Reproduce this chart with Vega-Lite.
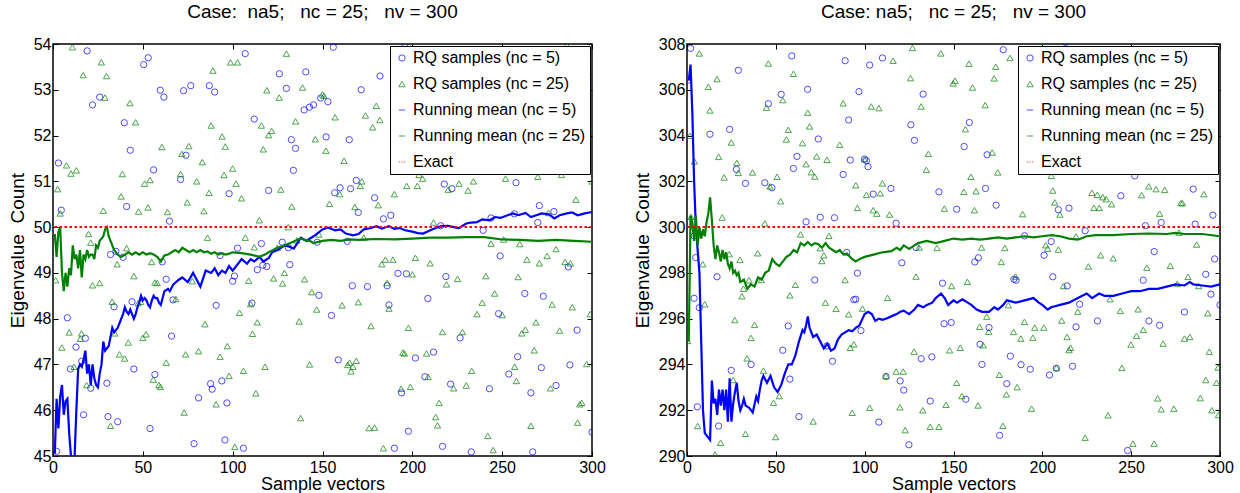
{
"$schema":"https://vega.github.io/schema/vega-lite/v6.json",
"padding":{"left":7,"top":2,"right":5,"bottom":2},
"bounds":"flush",
"spacing":95,
"background":"white",
"config":{
"font":"Liberation Sans",
"view":{"stroke":"#000","strokeWidth":1.5},
"axis":{"grid":false,"domain":false,"ticks":true,"tickColor":"#000","tickWidth":1,"tickSize":-5,"labelFontSize":16,"labelColor":"#000","labelFont":"Liberation Sans","titleFont":"Liberation Sans","titleFontSize":19,"titleFontWeight":"normal","titleColor":"#000","labelFlush":false,"labelOverlap":false},
"axisX":{"titleFontSize":18},
"title":{"fontSize":19,"fontWeight":"normal","font":"Liberation Sans","color":"#000","anchor":"middle","offset":14},
"legend":{"orient":"top-right","offset":2,"padding":4,"rowPadding":10,"labelFontSize":16,"labelFont":"Liberation Sans","labelColor":"#000","strokeColor":"#000","fillColor":"#fff","labelOffset":3,"labelLimit":400}
},
"resolve":{"scale":{"color":"independent","shape":"independent","size":"independent","strokeWidth":"independent"},"legend":{"color":"independent","shape":"independent","size":"independent","strokeWidth":"independent"}},
"datasets":{
"L":[
{"s":"a","x":2,"y":45.1},{"s":"a","x":3,"y":51.4},{"s":"a","x":4.6,"y":50.37},{"s":"a","x":8,"y":48.02},{"s":"a","x":9.7,"y":46.9},{"s":"a","x":12.8,"y":47.38},{"s":"a","x":16,"y":47.07},{"s":"a","x":17,"y":45.9},{"s":"a","x":18,"y":47.57},{"s":"a","x":19,"y":53.85},{"s":"a","x":21,"y":46.48},{"s":"a","x":22,"y":52.67},{"s":"a","x":26,"y":52.84},{"s":"a","x":30,"y":46.59},{"s":"a","x":30.6,"y":45.86},{"s":"a","x":32,"y":49.4},{"s":"a","x":34,"y":48.26},{"s":"a","x":35,"y":49.47},{"s":"a","x":36,"y":45.75},{"s":"a","x":39,"y":49.34},{"s":"a","x":39.7,"y":52.28},{"s":"a","x":41,"y":50.45},{"s":"a","x":43,"y":51.68},{"s":"a","x":44,"y":48.37},{"s":"a","x":45,"y":46.9},{"s":"a","x":50.5,"y":53.55},{"s":"a","x":53,"y":53.7},{"s":"a","x":54,"y":45.6},{"s":"a","x":56,"y":51.25},{"s":"a","x":56.7,"y":46.78},{"s":"a","x":59.7,"y":52.99},{"s":"a","x":60.8,"y":49.24},{"s":"a","x":61.7,"y":52.84},{"s":"a","x":63,"y":48.86},{"s":"a","x":64.8,"y":50.13},{"s":"a","x":66,"y":47.62},{"s":"a","x":66.8,"y":48.41},{"s":"a","x":71,"y":51.04},{"s":"a","x":72.7,"y":52.98},{"s":"a","x":74,"y":51.57},{"s":"a","x":76.7,"y":53.09},{"s":"a","x":78.5,"y":45.27},{"s":"a","x":81,"y":46.27},{"s":"a","x":87,"y":53.09},{"s":"a","x":87.7,"y":46.58},{"s":"a","x":88.6,"y":46.46},{"s":"a","x":90,"y":52.95},{"s":"a","x":90.8,"y":48.29},{"s":"a","x":93,"y":49.38},{"s":"a","x":94,"y":46.64},{"s":"a","x":95.7,"y":45.35},{"s":"a","x":96.8,"y":46.16},{"s":"a","x":98,"y":50.73},{"s":"a","x":100,"y":48.82},{"s":"a","x":101,"y":48.93},{"s":"a","x":102.7,"y":49.54},{"s":"a","x":106,"y":45.17},{"s":"a","x":107,"y":53.79},{"s":"a","x":110.7,"y":48.34},{"s":"a","x":112,"y":52.36},{"s":"a","x":113.7,"y":49.07},{"s":"a","x":116,"y":49.64},{"s":"a","x":116.8,"y":49.17},{"s":"a","x":119,"y":49.14},{"s":"a","x":120,"y":50.8},{"s":"a","x":126,"y":53.35},{"s":"a","x":127.6,"y":49.67},{"s":"a","x":129.9,"y":53.03},{"s":"a","x":131,"y":49.55},{"s":"a","x":131.8,"y":49.18},{"s":"a","x":132.7,"y":51.91},{"s":"a","x":133.8,"y":51.24},{"s":"a","x":135,"y":51.72},{"s":"a","x":140.7,"y":53.39},{"s":"a","x":139.8,"y":52.56},{"s":"a","x":142.7,"y":52.62},{"s":"a","x":145,"y":52.67},{"s":"a","x":147,"y":49.67},{"s":"a","x":148,"y":48.51},{"s":"a","x":149,"y":52.82},{"s":"a","x":152,"y":51.97},{"s":"a","x":153,"y":52.74},{"s":"a","x":155,"y":48.07},{"s":"a","x":156,"y":53.93},{"s":"a","x":156.8,"y":50.75},{"s":"a","x":158.8,"y":47.1},{"s":"a","x":159.8,"y":50.86},{"s":"a","x":163.8,"y":49.69},{"s":"a","x":164.9,"y":51.91},{"s":"a","x":165.6,"y":50.84},{"s":"a","x":166.6,"y":48.72},{"s":"a","x":168.8,"y":51.02},{"s":"a","x":169.9,"y":50.32},{"s":"a","x":171.5,"y":53.0},{"s":"a","x":175,"y":48.7},{"s":"a","x":179,"y":50.64},{"s":"a","x":182,"y":53.3},{"s":"a","x":183.9,"y":50.18},{"s":"a","x":186,"y":48.72},{"s":"a","x":187,"y":48.3},{"s":"a","x":188,"y":50.26},{"s":"a","x":190,"y":45.17},{"s":"a","x":192,"y":48.99},{"s":"a","x":194,"y":46.38},{"s":"a","x":195.8,"y":54.0},{"s":"a","x":196.7,"y":48.98},{"s":"a","x":197.8,"y":45.54},{"s":"a","x":201.7,"y":47.14},{"s":"a","x":207,"y":46.73},{"s":"a","x":208.6,"y":48.44},{"s":"a","x":211.8,"y":47.27},{"s":"a","x":215.8,"y":50.03},{"s":"a","x":216.8,"y":45.21},{"s":"a","x":217.8,"y":50.94},{"s":"a","x":218.7,"y":48.92},{"s":"a","x":221.3,"y":46.57},{"s":"a","x":222,"y":50.84},{"s":"a","x":226.6,"y":47.58},{"s":"a","x":232.8,"y":45.09},{"s":"a","x":239.4,"y":49.93},{"s":"a","x":242.9,"y":46.47},{"s":"a","x":243.8,"y":50.2},{"s":"a","x":248,"y":48.11},{"s":"a","x":248.9,"y":49.37},{"s":"a","x":253.7,"y":46.79},{"s":"a","x":256.8,"y":50.29},{"s":"a","x":257.7,"y":50.97},{"s":"a","x":258.6,"y":47.17},{"s":"a","x":262.6,"y":48.55},{"s":"a","x":266,"y":46.38},{"s":"a","x":267,"y":45.09},{"s":"a","x":269.8,"y":50.1},{"s":"a","x":270.7,"y":50.47},{"s":"a","x":271.8,"y":46.93},{"s":"a","x":272.9,"y":48.49},{"s":"a","x":280,"y":46.54},{"s":"a","x":278.8,"y":50.34},{"s":"a","x":286.8,"y":49.13},{"s":"a","x":287.7,"y":46.99},{"s":"a","x":291.7,"y":47.75},{"s":"a","x":299,"y":53.27},{"s":"a","x":300,"y":45.52},
{"s":"b","x":1.5,"y":48.84},{"s":"b","x":2.6,"y":50.83},{"s":"b","x":4,"y":50.3},{"s":"b","x":4.9,"y":47.37},{"s":"b","x":7.5,"y":51.35},{"s":"b","x":9,"y":47.7},{"s":"b","x":10,"y":51.17},{"s":"b","x":10.8,"y":53.93},{"s":"b","x":11.7,"y":46.95},{"s":"b","x":13,"y":51.24},{"s":"b","x":15.2,"y":47.56},{"s":"b","x":15.9,"y":47.68},{"s":"b","x":16.8,"y":53.32},{"s":"b","x":18.7,"y":46.55},{"s":"b","x":19.8,"y":49.85},{"s":"b","x":21,"y":49.66},{"s":"b","x":22,"y":48.73},{"s":"b","x":26,"y":48.78},{"s":"b","x":26.9,"y":53.6},{"s":"b","x":28,"y":50.36},{"s":"b","x":28.9,"y":52.83},{"s":"b","x":29.8,"y":53.3},{"s":"b","x":32,"y":45.66},{"s":"b","x":32.9,"y":48.37},{"s":"b","x":34.4,"y":47.68},{"s":"b","x":35.7,"y":49.19},{"s":"b","x":37,"y":47.22},{"s":"b","x":38.6,"y":51.16},{"s":"b","x":37.9,"y":50.67},{"s":"b","x":39.9,"y":47.13},{"s":"b","x":41,"y":49.54},{"s":"b","x":41.9,"y":47.48},{"s":"b","x":42.8,"y":52.71},{"s":"b","x":45,"y":48.93},{"s":"b","x":46,"y":52.29},{"s":"b","x":47.6,"y":50.34},{"s":"b","x":47.4,"y":48.34},{"s":"b","x":48.8,"y":48.37},{"s":"b","x":50,"y":47.58},{"s":"b","x":51,"y":50.95},{"s":"b","x":51.8,"y":47.66},{"s":"b","x":52.9,"y":50.43},{"s":"b","x":54,"y":51.03},{"s":"b","x":54.9,"y":49.24},{"s":"b","x":55.8,"y":46.67},{"s":"b","x":56.7,"y":48.79},{"s":"b","x":58,"y":48.78},{"s":"b","x":58.9,"y":46.55},{"s":"b","x":59.8,"y":46.51},{"s":"b","x":60.6,"y":51.75},{"s":"b","x":63,"y":47.04},{"s":"b","x":63.7,"y":50.33},{"s":"b","x":68.4,"y":48.43},{"s":"b","x":71,"y":51.16},{"s":"b","x":71.7,"y":51.6},{"s":"b","x":73,"y":45.95},{"s":"b","x":73.8,"y":47.22},{"s":"b","x":74.7,"y":50.54},{"s":"b","x":75.6,"y":51.77},{"s":"b","x":77.6,"y":48.82},{"s":"b","x":80,"y":51.0},{"s":"b","x":81,"y":47.29},{"s":"b","x":83.1,"y":51.42},{"s":"b","x":84,"y":50.35},{"s":"b","x":84.6,"y":47.88},{"s":"b","x":86,"y":49.77},{"s":"b","x":86.9,"y":50.75},{"s":"b","x":88,"y":52.22},{"s":"b","x":89,"y":53.42},{"s":"b","x":90.8,"y":46.13},{"s":"b","x":93,"y":47.17},{"s":"b","x":94.1,"y":51.98},{"s":"b","x":95.2,"y":51.14},{"s":"b","x":95.9,"y":51.76},{"s":"b","x":97,"y":47.4},{"s":"b","x":98,"y":46.75},{"s":"b","x":98.8,"y":53.6},{"s":"b","x":100,"y":51.28},{"s":"b","x":101.2,"y":45.2},{"s":"b","x":101.9,"y":50.95},{"s":"b","x":102.7,"y":53.6},{"s":"b","x":103.8,"y":48.13},{"s":"b","x":104.9,"y":50.63},{"s":"b","x":106,"y":46.86},{"s":"b","x":107,"y":49.77},{"s":"b","x":108.9,"y":48.83},{"s":"b","x":110,"y":48.32},{"s":"b","x":111,"y":47.67},{"s":"b","x":112,"y":49.56},{"s":"b","x":112.9,"y":46.37},{"s":"b","x":113.7,"y":47.92},{"s":"b","x":114.8,"y":50.15},{"s":"b","x":116,"y":52.22},{"s":"b","x":117,"y":51.7},{"s":"b","x":118,"y":46.95},{"s":"b","x":119,"y":52.99},{"s":"b","x":120,"y":52.01},{"s":"b","x":121.7,"y":52.1},{"s":"b","x":122.8,"y":48.88},{"s":"b","x":124.8,"y":49.55},{"s":"b","x":125.9,"y":52.83},{"s":"b","x":126.8,"y":50.82},{"s":"b","x":127.8,"y":48.77},{"s":"b","x":128.8,"y":49.0},{"s":"b","x":129.9,"y":53.79},{"s":"b","x":131,"y":50.0},{"s":"b","x":132.9,"y":50.45},{"s":"b","x":135,"y":52.31},{"s":"b","x":135.8,"y":49.71},{"s":"b","x":137,"y":47.94},{"s":"b","x":137.8,"y":45.83},{"s":"b","x":138.9,"y":53.05},{"s":"b","x":140,"y":48.86},{"s":"b","x":142.8,"y":47.0},{"s":"b","x":144,"y":48.58},{"s":"b","x":146,"y":51.92},{"s":"b","x":146.8,"y":48.2},{"s":"b","x":148,"y":49.84},{"s":"b","x":150,"y":52.9},{"s":"b","x":150.8,"y":52.87},{"s":"b","x":151.9,"y":51.67},{"s":"b","x":153.9,"y":50.51},{"s":"b","x":157,"y":52.4},{"s":"b","x":159.6,"y":50.72},{"s":"b","x":160.9,"y":48.29},{"s":"b","x":162,"y":51.45},{"s":"b","x":164,"y":46.99},{"s":"b","x":165.1,"y":47.04},{"s":"b","x":165.9,"y":46.85},{"s":"b","x":166.9,"y":46.95},{"s":"b","x":168,"y":50.44},{"s":"b","x":168.8,"y":47.08},{"s":"b","x":169.9,"y":48.36},{"s":"b","x":171,"y":50.9},{"s":"b","x":171.9,"y":51.0},{"s":"b","x":173,"y":49.77},{"s":"b","x":173.9,"y":52.44},{"s":"b","x":175.9,"y":45.61},{"s":"b","x":177,"y":47.84},{"s":"b","x":177.9,"y":52.18},{"s":"b","x":179,"y":45.62},{"s":"b","x":179.9,"y":52.65},{"s":"b","x":181,"y":50.48},{"s":"b","x":181.9,"y":52.34},{"s":"b","x":183,"y":49.19},{"s":"b","x":183.9,"y":45.17},{"s":"b","x":185,"y":49.29},{"s":"b","x":185.9,"y":48.78},{"s":"b","x":187,"y":48.22},{"s":"b","x":189.2,"y":49.29},{"s":"b","x":190,"y":50.72},{"s":"b","x":193.8,"y":46.47},{"s":"b","x":194.7,"y":47.26},{"s":"b","x":195.6,"y":47.24},{"s":"b","x":196.9,"y":50.9},{"s":"b","x":197.8,"y":47.8},{"s":"b","x":198.9,"y":46.51},{"s":"b","x":200,"y":48.97},{"s":"b","x":201.7,"y":49.33},{"s":"b","x":202.8,"y":50.9},{"s":"b","x":203.7,"y":51.14},{"s":"b","x":205.7,"y":51.06},{"s":"b","x":207.9,"y":47.24},{"s":"b","x":208.8,"y":46.73},{"s":"b","x":209.9,"y":49.21},{"s":"b","x":211.8,"y":50.1},{"s":"b","x":213,"y":45.85},{"s":"b","x":214,"y":45.67},{"s":"b","x":214.9,"y":46.16},{"s":"b","x":216.8,"y":47.71},{"s":"b","x":219,"y":48.75},{"s":"b","x":220,"y":50.82},{"s":"b","x":223,"y":46.48},{"s":"b","x":225.2,"y":48.87},{"s":"b","x":226,"y":50.95},{"s":"b","x":227.9,"y":47.71},{"s":"b","x":230,"y":46.54},{"s":"b","x":231,"y":50.8},{"s":"b","x":233,"y":46.86},{"s":"b","x":234,"y":51.0},{"s":"b","x":236,"y":48.1},{"s":"b","x":238.9,"y":48.35},{"s":"b","x":240.9,"y":48.93},{"s":"b","x":242,"y":45.44},{"s":"b","x":243.8,"y":49.64},{"s":"b","x":245,"y":45.13},{"s":"b","x":245.8,"y":48.55},{"s":"b","x":250,"y":48.08},{"s":"b","x":250.8,"y":49.73},{"s":"b","x":251.9,"y":51.06},{"s":"b","x":257.9,"y":46.64},{"s":"b","x":257,"y":46.95},{"s":"b","x":258.9,"y":48.91},{"s":"b","x":259.8,"y":49.63},{"s":"b","x":260.9,"y":47.68},{"s":"b","x":262.9,"y":47.76},{"s":"b","x":263.8,"y":49.29},{"s":"b","x":266,"y":45.66},{"s":"b","x":267.8,"y":47.31},{"s":"b","x":268.8,"y":47.92},{"s":"b","x":269.8,"y":51.1},{"s":"b","x":270.7,"y":49.21},{"s":"b","x":275,"y":49.37},{"s":"b","x":275.8,"y":50.31},{"s":"b","x":276.9,"y":46.48},{"s":"b","x":277.8,"y":48.31},{"s":"b","x":280,"y":49.52},{"s":"b","x":282,"y":47.74},{"s":"b","x":283,"y":51.14},{"s":"b","x":285,"y":49.24},{"s":"b","x":286,"y":53.97},{"s":"b","x":288,"y":49.21},{"s":"b","x":289,"y":48.25},{"s":"b","x":291,"y":50.6},{"s":"b","x":292,"y":45.73},{"s":"b","x":293.2,"y":46.13},{"s":"b","x":294.3,"y":46.16},{"s":"b","x":297,"y":47.01},{"s":"b","x":299,"y":48.1},{"s":"b","x":299.6,"y":53.55},{"s":"b","x":300,"y":51.0},
{"s":"c","x":1,"y":45.05},{"s":"c","x":2,"y":46.25},{"s":"c","x":3,"y":45.6},{"s":"c","x":4,"y":46.3},{"s":"c","x":5,"y":46.55},{"s":"c","x":6,"y":45.9},{"s":"c","x":7,"y":46.2},{"s":"c","x":8,"y":46.25},{"s":"c","x":9,"y":45.5},{"s":"c","x":10,"y":45.0},{"s":"c","x":11,"y":44.9},{"s":"c","x":12,"y":44.95},{"s":"c","x":13,"y":46.0},{"s":"c","x":14,"y":46.9},{"s":"c","x":15,"y":47.0},{"s":"c","x":16,"y":46.95},{"s":"c","x":17,"y":47.1},{"s":"c","x":18,"y":47.3},{"s":"c","x":19,"y":46.8},{"s":"c","x":20,"y":47.0},{"s":"c","x":21,"y":46.55},{"s":"c","x":22,"y":47.0},{"s":"c","x":23,"y":46.7},{"s":"c","x":24,"y":46.55},{"s":"c","x":25,"y":46.5},{"s":"c","x":26,"y":46.8},{"s":"c","x":27,"y":47.0},{"s":"c","x":28,"y":47.5},{"s":"c","x":29,"y":47.3},{"s":"c","x":30,"y":47.35},{"s":"c","x":31,"y":47.4},{"s":"c","x":32,"y":47.6},{"s":"c","x":33,"y":47.8},{"s":"c","x":34,"y":47.7},{"s":"c","x":35,"y":47.75},{"s":"c","x":36,"y":47.8},{"s":"c","x":37,"y":47.9},{"s":"c","x":38,"y":48.0},{"s":"c","x":39,"y":48.1},{"s":"c","x":40,"y":48.25},{"s":"c","x":41,"y":48.15},{"s":"c","x":42,"y":48.1},{"s":"c","x":43,"y":48.2},{"s":"c","x":44,"y":48.1},{"s":"c","x":45,"y":48.0},{"s":"c","x":46,"y":48.1},{"s":"c","x":47,"y":48.25},{"s":"c","x":48,"y":48.35},{"s":"c","x":49,"y":48.5},{"s":"c","x":50,"y":48.4},{"s":"c","x":51,"y":48.45},{"s":"c","x":52,"y":48.4},{"s":"c","x":53,"y":48.3},{"s":"c","x":54,"y":48.25},{"s":"c","x":55,"y":48.4},{"s":"c","x":56,"y":48.5},{"s":"c","x":57,"y":48.45},{"s":"c","x":58,"y":48.45},{"s":"c","x":59,"y":48.35},{"s":"c","x":60,"y":48.3},{"s":"c","x":62,"y":48.6},{"s":"c","x":64,"y":48.65},{"s":"c","x":65,"y":48.6},{"s":"c","x":67,"y":48.75},{"s":"c","x":70,"y":48.85},{"s":"c","x":72,"y":48.9},{"s":"c","x":75,"y":48.8},{"s":"c","x":78,"y":49.0},{"s":"c","x":80,"y":48.85},{"s":"c","x":82,"y":48.7},{"s":"c","x":85,"y":49.05},{"s":"c","x":88,"y":49.0},{"s":"c","x":90,"y":49.1},{"s":"c","x":92,"y":48.95},{"s":"c","x":94,"y":49.05},{"s":"c","x":96,"y":49.0},{"s":"c","x":98,"y":49.15},{"s":"c","x":100,"y":49.05},{"s":"c","x":102,"y":49.15},{"s":"c","x":105,"y":49.3},{"s":"c","x":108,"y":49.2},{"s":"c","x":110,"y":49.3},{"s":"c","x":112,"y":49.25},{"s":"c","x":115,"y":49.35},{"s":"c","x":117,"y":49.25},{"s":"c","x":120,"y":49.32},{"s":"c","x":122,"y":49.45},{"s":"c","x":125,"y":49.5},{"s":"c","x":129,"y":49.6},{"s":"c","x":131,"y":49.58},{"s":"c","x":134,"y":49.53},{"s":"c","x":138,"y":49.77},{"s":"c","x":141,"y":49.7},{"s":"c","x":145,"y":49.8},{"s":"c","x":147,"y":49.86},{"s":"c","x":150,"y":49.95},{"s":"c","x":153,"y":49.99},{"s":"c","x":157,"y":49.93},{"s":"c","x":160,"y":49.95},{"s":"c","x":163,"y":49.86},{"s":"c","x":167,"y":49.82},{"s":"c","x":170,"y":49.85},{"s":"c","x":173,"y":49.95},{"s":"c","x":177,"y":49.98},{"s":"c","x":180,"y":50.02},{"s":"c","x":183,"y":49.97},{"s":"c","x":187,"y":50.02},{"s":"c","x":190,"y":49.96},{"s":"c","x":193,"y":49.98},{"s":"c","x":196,"y":49.93},{"s":"c","x":200,"y":49.9},{"s":"c","x":203,"y":49.87},{"s":"c","x":206,"y":49.86},{"s":"c","x":210,"y":49.93},{"s":"c","x":213,"y":49.98},{"s":"c","x":216,"y":50.02},{"s":"c","x":220,"y":50.03},{"s":"c","x":223,"y":50.0},{"s":"c","x":226,"y":49.98},{"s":"c","x":230,"y":50.08},{"s":"c","x":233,"y":50.1},{"s":"c","x":236,"y":50.11},{"s":"c","x":239,"y":50.17},{"s":"c","x":243,"y":50.15},{"s":"c","x":246,"y":50.22},{"s":"c","x":249,"y":50.2},{"s":"c","x":253,"y":50.26},{"s":"c","x":256,"y":50.3},{"s":"c","x":259,"y":50.26},{"s":"c","x":263,"y":50.31},{"s":"c","x":266,"y":50.22},{"s":"c","x":269,"y":50.26},{"s":"c","x":272,"y":50.3},{"s":"c","x":276,"y":50.28},{"s":"c","x":279,"y":50.19},{"s":"c","x":282,"y":50.26},{"s":"c","x":286,"y":50.3},{"s":"c","x":289,"y":50.32},{"s":"c","x":292,"y":50.26},{"s":"c","x":296,"y":50.3},{"s":"c","x":300,"y":50.33},
{"s":"d","x":1,"y":49.85},{"s":"d","x":2,"y":49.35},{"s":"d","x":3,"y":49.9},{"s":"d","x":4,"y":50.0},{"s":"d","x":5,"y":49.0},{"s":"d","x":6,"y":48.6},{"s":"d","x":7,"y":49.0},{"s":"d","x":8,"y":48.7},{"s":"d","x":9,"y":49.1},{"s":"d","x":10,"y":48.95},{"s":"d","x":11,"y":49.6},{"s":"d","x":12,"y":49.3},{"s":"d","x":13,"y":49.4},{"s":"d","x":14,"y":49.1},{"s":"d","x":15,"y":49.5},{"s":"d","x":16,"y":48.9},{"s":"d","x":17,"y":49.4},{"s":"d","x":18,"y":49.3},{"s":"d","x":19,"y":49.5},{"s":"d","x":20,"y":49.35},{"s":"d","x":21,"y":49.4},{"s":"d","x":22,"y":49.4},{"s":"d","x":23,"y":49.3},{"s":"d","x":24,"y":49.6},{"s":"d","x":25,"y":49.55},{"s":"d","x":26,"y":49.7},{"s":"d","x":27,"y":49.75},{"s":"d","x":28,"y":49.8},{"s":"d","x":29,"y":49.95},{"s":"d","x":30,"y":50.0},{"s":"d","x":31,"y":49.8},{"s":"d","x":32,"y":49.7},{"s":"d","x":33,"y":49.6},{"s":"d","x":34,"y":49.5},{"s":"d","x":35,"y":49.45},{"s":"d","x":36,"y":49.4},{"s":"d","x":38,"y":49.35},{"s":"d","x":40,"y":49.4},{"s":"d","x":42,"y":49.45},{"s":"d","x":44,"y":49.4},{"s":"d","x":46,"y":49.45},{"s":"d","x":48,"y":49.4},{"s":"d","x":50,"y":49.45},{"s":"d","x":52,"y":49.4},{"s":"d","x":54,"y":49.43},{"s":"d","x":56,"y":49.4},{"s":"d","x":58,"y":49.35},{"s":"d","x":60,"y":49.25},{"s":"d","x":62,"y":49.38},{"s":"d","x":64,"y":49.4},{"s":"d","x":66,"y":49.45},{"s":"d","x":68,"y":49.5},{"s":"d","x":70,"y":49.45},{"s":"d","x":72,"y":49.55},{"s":"d","x":74,"y":49.5},{"s":"d","x":76,"y":49.45},{"s":"d","x":78,"y":49.5},{"s":"d","x":80,"y":49.45},{"s":"d","x":82,"y":49.5},{"s":"d","x":84,"y":49.45},{"s":"d","x":86,"y":49.47},{"s":"d","x":88,"y":49.42},{"s":"d","x":90,"y":49.45},{"s":"d","x":92,"y":49.4},{"s":"d","x":94,"y":49.43},{"s":"d","x":96,"y":49.4},{"s":"d","x":98,"y":49.42},{"s":"d","x":100,"y":49.45},{"s":"d","x":105,"y":49.43},{"s":"d","x":110,"y":49.4},{"s":"d","x":115,"y":49.35},{"s":"d","x":118,"y":49.4},{"s":"d","x":120,"y":49.45},{"s":"d","x":125,"y":49.55},{"s":"d","x":130,"y":49.62},{"s":"d","x":135,"y":49.7},{"s":"d","x":138,"y":49.75},{"s":"d","x":140,"y":49.72},{"s":"d","x":143,"y":49.7},{"s":"d","x":145,"y":49.65},{"s":"d","x":150,"y":49.7},{"s":"d","x":155,"y":49.72},{"s":"d","x":160,"y":49.7},{"s":"d","x":165,"y":49.73},{"s":"d","x":170,"y":49.72},{"s":"d","x":175,"y":49.73},{"s":"d","x":180,"y":49.74},{"s":"d","x":190,"y":49.73},{"s":"d","x":200,"y":49.75},{"s":"d","x":210,"y":49.77},{"s":"d","x":220,"y":49.77},{"s":"d","x":230,"y":49.78},{"s":"d","x":240,"y":49.78},{"s":"d","x":250,"y":49.73},{"s":"d","x":260,"y":49.72},{"s":"d","x":270,"y":49.7},{"s":"d","x":280,"y":49.72},{"s":"d","x":290,"y":49.7},{"s":"d","x":300,"y":49.68},
{"s":"e","y":50}
],
"R":[
{"s":"a","x":0.9,"y":306.43},{"s":"a","x":2,"y":307.81},{"s":"a","x":4,"y":299.62},{"s":"a","x":4.9,"y":298.67},{"s":"a","x":4,"y":296.89},{"s":"a","x":5.8,"y":292.15},{"s":"a","x":6.9,"y":296.48},{"s":"a","x":12.9,"y":304.06},{"s":"a","x":17.8,"y":291.31},{"s":"a","x":16.9,"y":297.83},{"s":"a","x":24,"y":304.27},{"s":"a","x":24.9,"y":293.74},{"s":"a","x":27.8,"y":302.52},{"s":"a","x":28.9,"y":306.85},{"s":"a","x":32.9,"y":301.91},{"s":"a","x":36.1,"y":294.0},{"s":"a","x":43.8,"y":301.94},{"s":"a","x":45.8,"y":305.39},{"s":"a","x":47.8,"y":301.72},{"s":"a","x":53,"y":305.8},{"s":"a","x":53.9,"y":294.62},{"s":"a","x":57,"y":295.68},{"s":"a","x":57.9,"y":293.36},{"s":"a","x":59,"y":307.48},{"s":"a","x":59.9,"y":302.56},{"s":"a","x":61.9,"y":303.09},{"s":"a","x":63,"y":291.72},{"s":"a","x":67,"y":300.23},{"s":"a","x":67.9,"y":306.02},{"s":"a","x":71.9,"y":297.69},{"s":"a","x":73.9,"y":303.85},{"s":"a","x":75,"y":300.43},{"s":"a","x":78.8,"y":294.81},{"s":"a","x":81.9,"y":294.14},{"s":"a","x":83,"y":300.41},{"s":"a","x":87.9,"y":302.3},{"s":"a","x":89,"y":307.27},{"s":"a","x":89.9,"y":298.89},{"s":"a","x":91,"y":304.68},{"s":"a","x":91.9,"y":302.93},{"s":"a","x":93.9,"y":296.83},{"s":"a","x":95,"y":296.85},{"s":"a","x":95.9,"y":297.99},{"s":"a","x":96.8,"y":305.92},{"s":"a","x":97.9,"y":295.48},{"s":"a","x":99.9,"y":302.97},{"s":"a","x":101,"y":302.9},{"s":"a","x":101.9,"y":302.64},{"s":"a","x":102.8,"y":307.08},{"s":"a","x":104.8,"y":301.44},{"s":"a","x":108,"y":291.48},{"s":"a","x":110,"y":307.39},{"s":"a","x":112,"y":293.47},{"s":"a","x":114.8,"y":301.69},{"s":"a","x":117.7,"y":300.17},{"s":"a","x":120,"y":293.28},{"s":"a","x":120.9,"y":298.44},{"s":"a","x":122,"y":292.88},{"s":"a","x":124.9,"y":290.49},{"s":"a","x":126,"y":304.47},{"s":"a","x":128,"y":303.79},{"s":"a","x":128.9,"y":299.11},{"s":"a","x":131.8,"y":294.25},{"s":"a","x":132.9,"y":305.81},{"s":"a","x":137.8,"y":294.33},{"s":"a","x":136.9,"y":292.4},{"s":"a","x":141.8,"y":301.54},{"s":"a","x":143.8,"y":297.55},{"s":"a","x":144.7,"y":295.78},{"s":"a","x":148.7,"y":295.83},{"s":"a","x":151.8,"y":300.78},{"s":"a","x":156,"y":303.52},{"s":"a","x":156.9,"y":292.48},{"s":"a","x":158.9,"y":304.57},{"s":"a","x":162,"y":298.48},{"s":"a","x":164,"y":298.66},{"s":"a","x":164.9,"y":294.88},{"s":"a","x":166,"y":294.0},{"s":"a","x":168,"y":301.69},{"s":"a","x":168.9,"y":303.16},{"s":"a","x":170,"y":295.61},{"s":"a","x":174,"y":300.96},{"s":"a","x":176,"y":290.9},{"s":"a","x":178,"y":307.75},{"s":"a","x":180,"y":293.16},{"s":"a","x":182,"y":294.36},{"s":"a","x":184,"y":297.72},{"s":"a","x":185.2,"y":297.68},{"s":"a","x":188,"y":293.99},{"s":"a","x":190,"y":299.62},{"s":"a","x":193.2,"y":293.79},{"s":"a","x":201,"y":298.77},{"s":"a","x":204,"y":293.54},{"s":"a","x":205,"y":299.37},{"s":"a","x":205.9,"y":297.83},{"s":"a","x":207.9,"y":293.83},{"s":"a","x":209,"y":300.76},{"s":"a","x":213,"y":308.07},{"s":"a","x":214,"y":297.43},{"s":"a","x":215,"y":300.83},{"s":"a","x":217,"y":293.92},{"s":"a","x":219,"y":295.64},{"s":"a","x":221,"y":296.63},{"s":"a","x":224.1,"y":299.84},{"s":"a","x":231,"y":295.9},{"s":"a","x":244.2,"y":301.37},{"s":"a","x":248,"y":290.24},{"s":"a","x":252,"y":302.24},{"s":"a","x":256.8,"y":297.68},{"s":"a","x":258,"y":300.06},{"s":"a","x":260,"y":295.9},{"s":"a","x":263,"y":298.93},{"s":"a","x":266,"y":295.71},{"s":"a","x":266.9,"y":300.2},{"s":"a","x":280,"y":296.29},{"s":"a","x":284.9,"y":301.66},{"s":"a","x":286,"y":300.13},{"s":"a","x":292,"y":297.94},{"s":"a","x":294.9,"y":297.07},{"s":"a","x":296,"y":300.52},{"s":"a","x":297,"y":298.61},{"s":"a","x":300,"y":296.6},
{"s":"b","x":0.4,"y":295.03},{"s":"b","x":1.6,"y":303.99},{"s":"b","x":2.2,"y":300.45},{"s":"b","x":4.2,"y":302.87},{"s":"b","x":6,"y":291.31},{"s":"b","x":6.9,"y":307.59},{"s":"b","x":8.9,"y":298.38},{"s":"b","x":10,"y":296.63},{"s":"b","x":12,"y":306.13},{"s":"b","x":12.9,"y":305.1},{"s":"b","x":15.8,"y":290.07},{"s":"b","x":16.9,"y":306.47},{"s":"b","x":17.8,"y":303.07},{"s":"b","x":18.9,"y":290.58},{"s":"b","x":19.8,"y":300.42},{"s":"b","x":20.9,"y":302.17},{"s":"b","x":23.8,"y":298.82},{"s":"b","x":24.9,"y":303.7},{"s":"b","x":26,"y":293.32},{"s":"b","x":26.9,"y":295.94},{"s":"b","x":28,"y":302.81},{"s":"b","x":28.9,"y":302.37},{"s":"b","x":29.8,"y":298.57},{"s":"b","x":30.9,"y":296.98},{"s":"b","x":31.8,"y":297.31},{"s":"b","x":32.9,"y":290.97},{"s":"b","x":33.8,"y":294.27},{"s":"b","x":34.9,"y":297.68},{"s":"b","x":36,"y":295.16},{"s":"b","x":36.9,"y":302.39},{"s":"b","x":38,"y":295.73},{"s":"b","x":39.8,"y":298.86},{"s":"b","x":41.8,"y":297.69},{"s":"b","x":43,"y":293.73},{"s":"b","x":43.8,"y":300.16},{"s":"b","x":44.7,"y":305.22},{"s":"b","x":45.8,"y":307.15},{"s":"b","x":46.7,"y":301.78},{"s":"b","x":48.7,"y":292.33},{"s":"b","x":49.9,"y":290.83},{"s":"b","x":50.7,"y":302.2},{"s":"b","x":51.9,"y":292.62},{"s":"b","x":52.7,"y":301.13},{"s":"b","x":53.9,"y":305.55},{"s":"b","x":55.9,"y":303.83},{"s":"b","x":57,"y":304.25},{"s":"b","x":57.9,"y":297.02},{"s":"b","x":59.9,"y":306.7},{"s":"b","x":61,"y":297.48},{"s":"b","x":63.9,"y":299.68},{"s":"b","x":65,"y":303.67},{"s":"b","x":67,"y":302.75},{"s":"b","x":67.9,"y":305.0},{"s":"b","x":69,"y":304.4},{"s":"b","x":69.9,"y":302.4},{"s":"b","x":71,"y":291.51},{"s":"b","x":71.9,"y":302.21},{"s":"b","x":73,"y":303.09},{"s":"b","x":75,"y":299.08},{"s":"b","x":75.9,"y":298.52},{"s":"b","x":77,"y":298.77},{"s":"b","x":77.9,"y":296.7},{"s":"b","x":78.8,"y":302.94},{"s":"b","x":79.9,"y":299.62},{"s":"b","x":83.9,"y":296.43},{"s":"b","x":85.9,"y":303.6},{"s":"b","x":87.9,"y":305.41},{"s":"b","x":89,"y":297.69},{"s":"b","x":91,"y":296.19},{"s":"b","x":91.9,"y":294.73},{"s":"b","x":93,"y":291.89},{"s":"b","x":93.9,"y":294.88},{"s":"b","x":95,"y":301.83},{"s":"b","x":95.9,"y":300.84},{"s":"b","x":98.8,"y":296.44},{"s":"b","x":99.9,"y":302.97},{"s":"b","x":101,"y":301.41},{"s":"b","x":102.8,"y":292.11},{"s":"b","x":103.7,"y":305.27},{"s":"b","x":104.8,"y":300.74},{"s":"b","x":106.8,"y":300.59},{"s":"b","x":108,"y":305.2},{"s":"b","x":108.8,"y":301.48},{"s":"b","x":110,"y":301.91},{"s":"b","x":112,"y":293.5},{"s":"b","x":112.9,"y":296.91},{"s":"b","x":114,"y":300.55},{"s":"b","x":116,"y":307.27},{"s":"b","x":117.7,"y":293.69},{"s":"b","x":119.8,"y":292.13},{"s":"b","x":121.7,"y":293.69},{"s":"b","x":122.8,"y":291.13},{"s":"b","x":125.8,"y":306.51},{"s":"b","x":126.9,"y":307.83},{"s":"b","x":127.8,"y":294.56},{"s":"b","x":128.9,"y":297.84},{"s":"b","x":130.7,"y":299.11},{"s":"b","x":131.8,"y":305.27},{"s":"b","x":132.7,"y":292.0},{"s":"b","x":134.7,"y":302.5},{"s":"b","x":135.8,"y":303.2},{"s":"b","x":136.9,"y":291.28},{"s":"b","x":140.7,"y":299.09},{"s":"b","x":141.8,"y":291.28},{"s":"b","x":142.9,"y":307.59},{"s":"b","x":144.9,"y":300.81},{"s":"b","x":145.8,"y":292.24},{"s":"b","x":147.8,"y":294.62},{"s":"b","x":148.9,"y":297.43},{"s":"b","x":149.8,"y":306.28},{"s":"b","x":150.9,"y":306.4},{"s":"b","x":151.8,"y":293.2},{"s":"b","x":153.8,"y":294.73},{"s":"b","x":154.7,"y":292.62},{"s":"b","x":155.8,"y":301.54},{"s":"b","x":156.7,"y":304.28},{"s":"b","x":157.8,"y":297.61},{"s":"b","x":158.7,"y":307.14},{"s":"b","x":159.8,"y":302.2},{"s":"b","x":160.7,"y":306.1},{"s":"b","x":161.8,"y":300.74},{"s":"b","x":162.7,"y":301.57},{"s":"b","x":163.8,"y":292.21},{"s":"b","x":164.7,"y":295.65},{"s":"b","x":165.8,"y":299.11},{"s":"b","x":166.7,"y":294.84},{"s":"b","x":167.8,"y":305.33},{"s":"b","x":168.7,"y":296.09},{"s":"b","x":169.8,"y":295.43},{"s":"b","x":171.8,"y":303.26},{"s":"b","x":172.9,"y":306.5},{"s":"b","x":173.8,"y":307.01},{"s":"b","x":174.9,"y":302.39},{"s":"b","x":175.8,"y":293.55},{"s":"b","x":176.9,"y":298.48},{"s":"b","x":177.8,"y":291.32},{"s":"b","x":178.9,"y":299.09},{"s":"b","x":179.8,"y":292.69},{"s":"b","x":180.9,"y":296.59},{"s":"b","x":181.8,"y":307.39},{"s":"b","x":183.8,"y":295.42},{"s":"b","x":184.9,"y":297.84},{"s":"b","x":185.8,"y":293.01},{"s":"b","x":187.9,"y":295.13},{"s":"b","x":188.9,"y":300.57},{"s":"b","x":189.9,"y":295.86},{"s":"b","x":193.9,"y":292.07},{"s":"b","x":194.7,"y":295.17},{"s":"b","x":195.7,"y":295.61},{"s":"b","x":199.9,"y":308.1},{"s":"b","x":200.8,"y":295.61},{"s":"b","x":201.9,"y":299.21},{"s":"b","x":203,"y":299.06},{"s":"b","x":205,"y":302.24},{"s":"b","x":205.9,"y":301.6},{"s":"b","x":207,"y":301.08},{"s":"b","x":207.9,"y":293.86},{"s":"b","x":209,"y":299.02},{"s":"b","x":209.9,"y":300.55},{"s":"b","x":210.9,"y":295.92},{"s":"b","x":211.9,"y":297.43},{"s":"b","x":213.9,"y":295.2},{"s":"b","x":215,"y":294.63},{"s":"b","x":215.9,"y":294.73},{"s":"b","x":219,"y":299.59},{"s":"b","x":219.9,"y":296.31},{"s":"b","x":224.1,"y":290.8},{"s":"b","x":225.9,"y":298.28},{"s":"b","x":227.9,"y":301.5},{"s":"b","x":229,"y":300.84},{"s":"b","x":230.9,"y":301.41},{"s":"b","x":232,"y":300.84},{"s":"b","x":232.8,"y":298.77},{"s":"b","x":234,"y":301.31},{"s":"b","x":236,"y":301.22},{"s":"b","x":237,"y":291.78},{"s":"b","x":238.1,"y":296.85},{"s":"b","x":239,"y":301.0},{"s":"b","x":239.9,"y":298.64},{"s":"b","x":243.9,"y":296.34},{"s":"b","x":244.8,"y":293.85},{"s":"b","x":249.9,"y":294.87},{"s":"b","x":251,"y":290.54},{"s":"b","x":253,"y":295.25},{"s":"b","x":253.9,"y":296.41},{"s":"b","x":255.9,"y":301.4},{"s":"b","x":256.8,"y":295.51},{"s":"b","x":258.8,"y":298.23},{"s":"b","x":259.9,"y":301.78},{"s":"b","x":262.9,"y":290.54},{"s":"b","x":264,"y":301.66},{"s":"b","x":264.9,"y":292.52},{"s":"b","x":266,"y":300.59},{"s":"b","x":266.9,"y":292.04},{"s":"b","x":268,"y":294.91},{"s":"b","x":268.9,"y":301.63},{"s":"b","x":272,"y":298.31},{"s":"b","x":274,"y":292.07},{"s":"b","x":276,"y":297.52},{"s":"b","x":276.9,"y":299.76},{"s":"b","x":278,"y":301.05},{"s":"b","x":278.9,"y":301.05},{"s":"b","x":280,"y":295.13},{"s":"b","x":282,"y":297.83},{"s":"b","x":283,"y":295.2},{"s":"b","x":286.9,"y":299.24},{"s":"b","x":288,"y":297.43},{"s":"b","x":288.9,"y":292.53},{"s":"b","x":290.9,"y":301.44},{"s":"b","x":292,"y":293.32},{"s":"b","x":293.1,"y":296.24},{"s":"b","x":294,"y":294.56},{"s":"b","x":295.4,"y":292.0},{"s":"b","x":298,"y":293.2},{"s":"b","x":298.9,"y":293.87},{"s":"b","x":299.1,"y":291.79},
{"s":"c","x":1,"y":306.4},{"s":"c","x":2,"y":307.1},{"s":"c","x":3,"y":305.0},{"s":"c","x":4,"y":302.0},{"s":"c","x":5,"y":300.0},{"s":"c","x":6,"y":299.0},{"s":"c","x":7,"y":298.0},{"s":"c","x":8,"y":295.0},{"s":"c","x":9,"y":292.0},{"s":"c","x":10,"y":291.0},{"s":"c","x":11,"y":290.9},{"s":"c","x":12,"y":290.8},{"s":"c","x":13,"y":290.7},{"s":"c","x":14,"y":293.3},{"s":"c","x":15,"y":292.3},{"s":"c","x":16,"y":292.5},{"s":"c","x":17,"y":291.8},{"s":"c","x":18,"y":292.9},{"s":"c","x":19,"y":292.2},{"s":"c","x":20,"y":292.9},{"s":"c","x":21,"y":292.0},{"s":"c","x":22,"y":292.9},{"s":"c","x":23,"y":291.5},{"s":"c","x":24,"y":293.4},{"s":"c","x":25,"y":291.5},{"s":"c","x":26,"y":292.3},{"s":"c","x":27,"y":292.8},{"s":"c","x":28,"y":293.2},{"s":"c","x":29,"y":292.4},{"s":"c","x":30,"y":292.0},{"s":"c","x":31,"y":292.2},{"s":"c","x":32,"y":292.5},{"s":"c","x":33,"y":292.2},{"s":"c","x":35,"y":292.1},{"s":"c","x":37,"y":291.9},{"s":"c","x":39,"y":292.6},{"s":"c","x":40,"y":292.4},{"s":"c","x":41,"y":292.9},{"s":"c","x":42,"y":293.3},{"s":"c","x":43,"y":293.5},{"s":"c","x":45,"y":293.2},{"s":"c","x":47,"y":293.5},{"s":"c","x":49,"y":293.0},{"s":"c","x":51,"y":292.8},{"s":"c","x":53,"y":293.1},{"s":"c","x":55,"y":293.6},{"s":"c","x":57,"y":294.0},{"s":"c","x":59,"y":294.0},{"s":"c","x":61,"y":294.4},{"s":"c","x":63,"y":295.0},{"s":"c","x":65,"y":295.5},{"s":"c","x":66,"y":295.4},{"s":"c","x":67,"y":295.7},{"s":"c","x":68,"y":296.1},{"s":"c","x":69,"y":295.6},{"s":"c","x":71,"y":295.2},{"s":"c","x":73,"y":295.3},{"s":"c","x":75,"y":295.0},{"s":"c","x":77,"y":294.7},{"s":"c","x":79,"y":294.9},{"s":"c","x":81,"y":294.6},{"s":"c","x":83,"y":294.7},{"s":"c","x":85,"y":295.1},{"s":"c","x":87,"y":295.3},{"s":"c","x":89,"y":295.4},{"s":"c","x":91,"y":295.5},{"s":"c","x":93,"y":295.45},{"s":"c","x":95,"y":295.6},{"s":"c","x":97,"y":295.7},{"s":"c","x":100,"y":296.2},{"s":"c","x":102,"y":296.3},{"s":"c","x":104,"y":296.2},{"s":"c","x":106,"y":295.9},{"s":"c","x":108,"y":296.0},{"s":"c","x":110,"y":295.95},{"s":"c","x":112,"y":296.0},{"s":"c","x":115,"y":296.1},{"s":"c","x":118,"y":296.2},{"s":"c","x":120,"y":296.3},{"s":"c","x":122,"y":296.35},{"s":"c","x":125,"y":296.2},{"s":"c","x":128,"y":296.4},{"s":"c","x":130,"y":296.6},{"s":"c","x":133,"y":296.5},{"s":"c","x":135,"y":296.6},{"s":"c","x":138,"y":296.7},{"s":"c","x":140,"y":296.9},{"s":"c","x":143,"y":297.1},{"s":"c","x":145,"y":296.9},{"s":"c","x":147,"y":296.6},{"s":"c","x":150,"y":296.8},{"s":"c","x":152,"y":296.7},{"s":"c","x":155,"y":296.85},{"s":"c","x":158,"y":296.7},{"s":"c","x":160,"y":296.6},{"s":"c","x":163,"y":296.4},{"s":"c","x":166,"y":296.3},{"s":"c","x":170,"y":296.3},{"s":"c","x":173,"y":296.5},{"s":"c","x":175,"y":296.4},{"s":"c","x":178,"y":296.6},{"s":"c","x":180,"y":296.8},{"s":"c","x":185,"y":296.7},{"s":"c","x":190,"y":296.8},{"s":"c","x":195,"y":296.9},{"s":"c","x":198,"y":296.7},{"s":"c","x":200,"y":296.6},{"s":"c","x":203,"y":296.4},{"s":"c","x":205,"y":296.5},{"s":"c","x":210,"y":296.6},{"s":"c","x":215,"y":296.7},{"s":"c","x":220,"y":296.9},{"s":"c","x":225,"y":297.1},{"s":"c","x":228,"y":296.9},{"s":"c","x":232,"y":297.1},{"s":"c","x":235,"y":297.0},{"s":"c","x":240,"y":297.0},{"s":"c","x":245,"y":297.1},{"s":"c","x":250,"y":297.2},{"s":"c","x":255,"y":297.2},{"s":"c","x":260,"y":297.3},{"s":"c","x":265,"y":297.3},{"s":"c","x":270,"y":297.4},{"s":"c","x":275,"y":297.5},{"s":"c","x":280,"y":297.45},{"s":"c","x":283,"y":297.6},{"s":"c","x":285,"y":297.5},{"s":"c","x":290,"y":297.45},{"s":"c","x":295,"y":297.4},{"s":"c","x":300,"y":297.5},
{"s":"d","x":1,"y":295.0},{"s":"d","x":2,"y":300.5},{"s":"d","x":3,"y":300.2},{"s":"d","x":4,"y":299.4},{"s":"d","x":5,"y":300.5},{"s":"d","x":6,"y":299.2},{"s":"d","x":7,"y":300.0},{"s":"d","x":8,"y":299.5},{"s":"d","x":9,"y":299.9},{"s":"d","x":10,"y":299.6},{"s":"d","x":11,"y":300.2},{"s":"d","x":12,"y":300.6},{"s":"d","x":13,"y":301.3},{"s":"d","x":14,"y":300.3},{"s":"d","x":15,"y":299.2},{"s":"d","x":16,"y":298.6},{"s":"d","x":17,"y":299.2},{"s":"d","x":18,"y":298.9},{"s":"d","x":19,"y":298.5},{"s":"d","x":20,"y":299.0},{"s":"d","x":21,"y":298.6},{"s":"d","x":22,"y":298.9},{"s":"d","x":23,"y":298.4},{"s":"d","x":24,"y":298.2},{"s":"d","x":25,"y":298.5},{"s":"d","x":26,"y":298.0},{"s":"d","x":27,"y":298.1},{"s":"d","x":28,"y":297.9},{"s":"d","x":29,"y":298.0},{"s":"d","x":30,"y":297.6},{"s":"d","x":32,"y":297.7},{"s":"d","x":34,"y":297.3},{"s":"d","x":36,"y":297.5},{"s":"d","x":38,"y":297.4},{"s":"d","x":40,"y":297.8},{"s":"d","x":42,"y":297.7},{"s":"d","x":44,"y":298.0},{"s":"d","x":46,"y":298.1},{"s":"d","x":48,"y":298.6},{"s":"d","x":50,"y":298.4},{"s":"d","x":52,"y":298.3},{"s":"d","x":54,"y":298.5},{"s":"d","x":56,"y":298.7},{"s":"d","x":58,"y":298.8},{"s":"d","x":60,"y":299.0},{"s":"d","x":62,"y":298.9},{"s":"d","x":64,"y":299.3},{"s":"d","x":66,"y":299.2},{"s":"d","x":68,"y":299.35},{"s":"d","x":70,"y":299.2},{"s":"d","x":72,"y":299.3},{"s":"d","x":74,"y":299.25},{"s":"d","x":76,"y":299.1},{"s":"d","x":78,"y":299.3},{"s":"d","x":80,"y":299.1},{"s":"d","x":82,"y":299.0},{"s":"d","x":84,"y":298.9},{"s":"d","x":86,"y":299.0},{"s":"d","x":88,"y":298.8},{"s":"d","x":90,"y":298.85},{"s":"d","x":93,"y":298.6},{"s":"d","x":95,"y":298.5},{"s":"d","x":97,"y":298.6},{"s":"d","x":100,"y":298.7},{"s":"d","x":105,"y":298.8},{"s":"d","x":110,"y":298.9},{"s":"d","x":115,"y":298.95},{"s":"d","x":118,"y":299.1},{"s":"d","x":120,"y":299.0},{"s":"d","x":122,"y":299.2},{"s":"d","x":125,"y":299.05},{"s":"d","x":128,"y":299.2},{"s":"d","x":130,"y":299.3},{"s":"d","x":135,"y":299.4},{"s":"d","x":140,"y":299.3},{"s":"d","x":145,"y":299.4},{"s":"d","x":150,"y":299.5},{"s":"d","x":155,"y":299.45},{"s":"d","x":160,"y":299.5},{"s":"d","x":165,"y":299.45},{"s":"d","x":170,"y":299.5},{"s":"d","x":175,"y":299.55},{"s":"d","x":180,"y":299.5},{"s":"d","x":185,"y":299.55},{"s":"d","x":190,"y":299.6},{"s":"d","x":195,"y":299.55},{"s":"d","x":200,"y":299.6},{"s":"d","x":205,"y":299.65},{"s":"d","x":210,"y":299.6},{"s":"d","x":215,"y":299.5},{"s":"d","x":220,"y":299.45},{"s":"d","x":225,"y":299.6},{"s":"d","x":230,"y":299.65},{"s":"d","x":240,"y":299.65},{"s":"d","x":250,"y":299.7},{"s":"d","x":260,"y":299.72},{"s":"d","x":270,"y":299.7},{"s":"d","x":275,"y":299.75},{"s":"d","x":280,"y":299.7},{"s":"d","x":290,"y":299.7},{"s":"d","x":300,"y":299.6},
{"s":"e","y":300}
]
},
"hconcat":[
{
"width":539,"height":412,
"title":{"text":"Case:\u00a0\u00a0na5;\u00a0\u00a0\u00a0nc = 25;\u00a0\u00a0\u00a0nv = 300"},
"data":{"name":"L"},
"resolve":{"axis":{"x":"independent","y":"independent"}},
"layer":[
{"transform":[{"filter":"datum.s=='a'||datum.s=='b'"}],
"mark":{"type":"point","filled":false,"clip":true},
"encoding":{
"x":{"field":"x","type":"quantitative","scale":{"domain":[0,300],"nice":false,"zero":false},"axis":{"values":[0,50,100,150,200,250,300],"title":"Sample vectors","titlePadding":0,"labelPadding":8}},
"y":{"field":"y","type":"quantitative","scale":{"domain":[45,54],"nice":false,"zero":false},"axis":{"values":[45,46,47,48,49,50,51,52,53,54],"title":"Eigenvalue\u00a0\u00a0Count","titlePadding":6,"labelPadding":7}},
"color":{"field":"s","type":"nominal","scale":{"domain":["a","b","c","d","e"],"range":["#0000ff","#008000","#0000ff","#008000","#ff0000"]},"legend":{"title":null,"labelExpr":"datum.value=='a'?'RQ samples (nc = 5)':datum.value=='b'?'RQ samples (nc = 25)':datum.value=='c'?'Running mean (nc = 5)':datum.value=='d'?'Running mean (nc = 25)':'Exact'"}},
"shape":{"field":"s","type":"nominal","scale":{"domain":["a","b","c","d","e"],"range":["circle","triangle-up","stroke","stroke","M-1,0H-0.6M-0.2,0H0.2M0.6,0H1"]},"legend":{"title":null,"labelExpr":"datum.value=='a'?'RQ samples (nc = 5)':datum.value=='b'?'RQ samples (nc = 25)':datum.value=='c'?'Running mean (nc = 5)':datum.value=='d'?'Running mean (nc = 25)':'Exact'"}},
"size":{"field":"s","type":"nominal","scale":{"domain":["a","b","c","d","e"],"range":[40,40,289,289,289]},"legend":{"title":null,"labelExpr":"datum.value=='a'?'RQ samples (nc = 5)':datum.value=='b'?'RQ samples (nc = 25)':datum.value=='c'?'Running mean (nc = 5)':datum.value=='d'?'Running mean (nc = 25)':'Exact'"}},
"strokeWidth":{"field":"s","type":"nominal","scale":{"domain":["a","b","c","d","e"],"range":[1,1,2,2,2]},"legend":{"title":null,"labelExpr":"datum.value=='a'?'RQ samples (nc = 5)':datum.value=='b'?'RQ samples (nc = 25)':datum.value=='c'?'Running mean (nc = 5)':datum.value=='d'?'Running mean (nc = 25)':'Exact'"}}
}},
{"transform":[{"filter":"datum.s=='c'||datum.s=='d'"}],
"mark":{"type":"line","strokeWidth":2.2,"clip":true},
"encoding":{
"x":{"field":"x","type":"quantitative","axis":{"orient":"top","labels":false,"title":null,"values":[0,50,100,150,200,250,300]}},
"y":{"field":"y","type":"quantitative","axis":{"orient":"right","labels":false,"title":null,"values":[45,46,47,48,49,50,51,52,53,54]}},
"color":{"field":"s","type":"nominal","legend":{"title":null}}
}},
{"transform":[{"filter":"datum.s=='e'"}],
"mark":{"type":"rule","strokeWidth":2,"strokeDash":[2.5,2.5]},
"encoding":{
"y":{"field":"y","type":"quantitative","axis":null},
"color":{"field":"s","type":"nominal","legend":{"title":null}}
}}
]
},
{
"width":533,"height":412,
"title":{"text":"Case:\u00a0na5;\u00a0\u00a0\u00a0nc = 25;\u00a0\u00a0\u00a0nv = 300"},
"data":{"name":"R"},
"resolve":{"axis":{"x":"independent","y":"independent"}},
"layer":[
{"transform":[{"filter":"datum.s=='a'||datum.s=='b'"}],
"mark":{"type":"point","filled":false,"clip":true},
"encoding":{
"x":{"field":"x","type":"quantitative","scale":{"domain":[0,300],"nice":false,"zero":false},"axis":{"values":[0,50,100,150,200,250,300],"title":"Sample vectors","titlePadding":0,"labelPadding":8}},
"y":{"field":"y","type":"quantitative","scale":{"domain":[290,308],"nice":false,"zero":false},"axis":{"values":[290,292,294,296,298,300,302,304,306,308],"title":"Eigenvalue\u00a0\u00a0Count","titlePadding":6,"labelPadding":7}},
"color":{"field":"s","type":"nominal","scale":{"domain":["a","b","c","d","e"],"range":["#0000ff","#008000","#0000ff","#008000","#ff0000"]},"legend":{"title":null,"labelExpr":"datum.value=='a'?'RQ samples (nc = 5)':datum.value=='b'?'RQ samples (nc = 25)':datum.value=='c'?'Running mean (nc = 5)':datum.value=='d'?'Running mean (nc = 25)':'Exact'"}},
"shape":{"field":"s","type":"nominal","scale":{"domain":["a","b","c","d","e"],"range":["circle","triangle-up","stroke","stroke","M-1,0H-0.6M-0.2,0H0.2M0.6,0H1"]},"legend":{"title":null,"labelExpr":"datum.value=='a'?'RQ samples (nc = 5)':datum.value=='b'?'RQ samples (nc = 25)':datum.value=='c'?'Running mean (nc = 5)':datum.value=='d'?'Running mean (nc = 25)':'Exact'"}},
"size":{"field":"s","type":"nominal","scale":{"domain":["a","b","c","d","e"],"range":[40,40,289,289,289]},"legend":{"title":null,"labelExpr":"datum.value=='a'?'RQ samples (nc = 5)':datum.value=='b'?'RQ samples (nc = 25)':datum.value=='c'?'Running mean (nc = 5)':datum.value=='d'?'Running mean (nc = 25)':'Exact'"}},
"strokeWidth":{"field":"s","type":"nominal","scale":{"domain":["a","b","c","d","e"],"range":[1,1,2,2,2]},"legend":{"title":null,"labelExpr":"datum.value=='a'?'RQ samples (nc = 5)':datum.value=='b'?'RQ samples (nc = 25)':datum.value=='c'?'Running mean (nc = 5)':datum.value=='d'?'Running mean (nc = 25)':'Exact'"}}
}},
{"transform":[{"filter":"datum.s=='c'||datum.s=='d'"}],
"mark":{"type":"line","strokeWidth":2.2,"clip":true},
"encoding":{
"x":{"field":"x","type":"quantitative","axis":{"orient":"top","labels":false,"title":null,"values":[0,50,100,150,200,250,300]}},
"y":{"field":"y","type":"quantitative","axis":{"orient":"right","labels":false,"title":null,"values":[290,292,294,296,298,300,302,304,306,308]}},
"color":{"field":"s","type":"nominal","legend":{"title":null}}
}},
{"transform":[{"filter":"datum.s=='e'"}],
"mark":{"type":"rule","strokeWidth":2,"strokeDash":[2.5,2.5]},
"encoding":{
"y":{"field":"y","type":"quantitative","axis":null},
"color":{"field":"s","type":"nominal","legend":{"title":null}}
}}
]
}
]
}
